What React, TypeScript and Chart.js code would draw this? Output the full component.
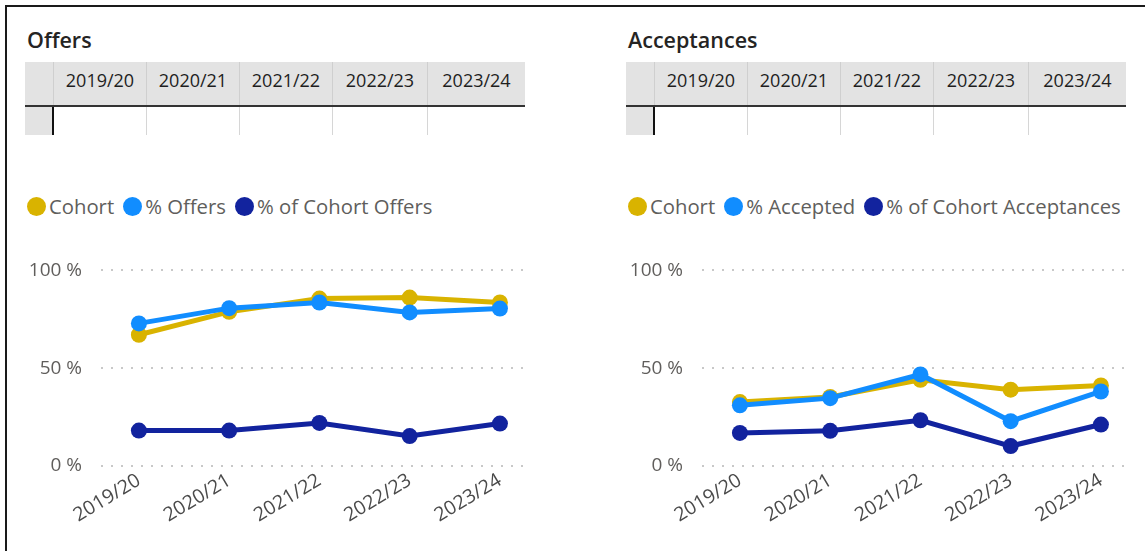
import React, { useEffect, useRef } from "react";
import { Chart, registerables } from "chart.js";

Chart.register(...registerables);

// ---- data ----
const categories = ["2019/20", "2020/21", "2021/22", "2022/23", "2023/24"];
const yTickValues = [0, 50, 100];

const offersSeriesNames = ["Cohort", "% Offers", "% of Cohort Offers"];
const offersCohort = [67.1, 78.8, 85.6, 86.1, 83.6];
const offersPct = [72.9, 80.7, 83.6, 78.5, 80.5];
const offersOfCohort = [18.1, 18.1, 22.0, 15.3, 21.7];

const accSeriesNames = ["Cohort", "% Accepted", "% of Cohort Acceptances"];
const accCohort = [32.7, 35.3, 44.1, 39.0, 41.2];
const accPct = [31.0, 34.7, 46.8, 22.9, 38.1];
const accOfCohort = [16.9, 18.0, 23.4, 10.2, 21.2];

const seriesColors = ["#D9B300", "#118DFF", "#12239E"];

const FONT = "'Segoe UI', 'Open Sans', sans-serif";
const TITLE_FONT = "'Segoe UI', 'Open Sans', sans-serif";

const colWidths = [29, 93, 93, 93, 95, 97];

type PanelProps = {
  x0: number;
  title: string;
  names: string[];
  series: number[][];
};

function LineChart({ names, series }: { names: string[]; series: number[][] }) {
  const ref = useRef<HTMLCanvasElement | null>(null);
  useEffect(() => {
    if (!ref.current) return;
    const drawOrder = [2, 1, 0];
    const chart = new Chart(ref.current, {
      type: "line",
      data: {
        datasets: series.map((vals, si) => ({
          label: names[si],
          data: vals.map((v, i) => ({ x: i, y: v })),
          borderColor: seriesColors[si],
          backgroundColor: seriesColors[si],
          pointBackgroundColor: seriesColors[si],
          pointBorderWidth: 0,
          pointRadius: 8,
          pointHoverRadius: 8,
          borderWidth: 5,
          tension: 0,
          order: drawOrder[si],
        })),
      },
      options: {
        animation: false,
        responsive: false,
        maintainAspectRatio: false,
        events: [],
        layout: { padding: { left: 0, right: 17, top: 30, bottom: 0 } },
        plugins: {
          legend: { display: false },
          tooltip: { enabled: false },
        },
        scales: {
          x: {
            type: "linear",
            min: -0.42,
            max: 4.3,
            afterBuildTicks: (s: any) => {
              s.ticks = categories.map((_, i) => ({ value: i }));
            },
            afterFit: (s: any) => {
              s.height = 85;
            },
            ticks: {
              callback: (v: any) => categories[v] ?? "",
              autoSkip: false,
              minRotation: 31,
              maxRotation: 31,
              padding: 3,
              color: "#4A4A4A",
              font: { family: FONT, size: 19.5 },
            },
            grid: { display: false, drawTicks: false },
            border: { display: false },
          },
          y: {
            min: 0,
            max: 100,
            afterBuildTicks: (s: any) => {
              s.ticks = yTickValues.map((v) => ({ value: v }));
            },
            afterFit: (s: any) => {
              s.width = 101;
            },
            ticks: {
              callback: (v: any) => v + " %",
              padding: 19,
              color: "#605E5C",
              font: { family: FONT, size: 19 },
            },
            grid: { color: "#C8C8C8", lineWidth: 2, drawTicks: false },
            border: { display: false, dash: [2, 8] },
          },
        },
      },
    });
    return () => chart.destroy();
  }, [names, series]);
  return (
    <canvas
      ref={ref}
      width={544}
      height={311}
      style={{ position: "absolute", left: 0, top: 240, width: 544, height: 311 }}
    />
  );
}

function Panel({ x0, title, names, series }: PanelProps) {
  return (
    <div style={{ position: "absolute", left: x0, top: 0, width: 544, height: 551 }}>
      <div
        style={{
          position: "absolute",
          left: 27,
          top: 26,
          fontFamily: TITLE_FONT,
          fontWeight: 600,
          fontSize: 21.5,
          color: "#252423",
          lineHeight: "28px",
          whiteSpace: "nowrap",
        }}
      >
        {title}
      </div>
      {/* table */}
      <div style={{ position: "absolute", left: 25, top: 62, width: 500, height: 73 }}>
        <div style={{ display: "flex", height: 43, background: "#E3E3E3", borderBottom: "2px solid #333" }}>
          {colWidths.map((w, i) => (
            <div
              key={i}
              style={{
                width: w,
                boxSizing: "border-box",
                borderRight: i < colWidths.length - 1 ? "1px solid #CFCFCF" : "none",
                fontFamily: FONT,
                fontSize: 18,
                color: "#1E1E1E",
                textAlign: "center",
                lineHeight: "36px",
                whiteSpace: "nowrap",
              }}
            >
              {i === 0 ? "" : categories[i - 1]}
            </div>
          ))}
        </div>
        <div style={{ display: "flex", height: 28 }}>
          {colWidths.map((w, i) => (
            <div
              key={i}
              style={{
                width: w,
                boxSizing: "border-box",
                background: i === 0 ? "#E3E3E3" : "#FFFFFF",
                borderRight:
                  i === 0 ? "2px solid #111" : i < colWidths.length - 1 ? "1px solid #D6D6D6" : "none",
              }}
            />
          ))}
        </div>
      </div>
      {/* legend */}
      <div
        style={{
          position: "absolute",
          left: 27,
          top: 193,
          height: 26,
          display: "flex",
          alignItems: "center",
          fontFamily: FONT,
          fontSize: 20.3,
          color: "#605E5C",
          whiteSpace: "nowrap",
        }}
      >
        {names.map((n, i) => (
          <div key={i} style={{ display: "flex", alignItems: "center", marginRight: 9 }}>
            <span
              style={{
                display: "inline-block",
                width: 19,
                height: 19,
                borderRadius: "50%",
                background: seriesColors[i],
                marginRight: 3,
              }}
            />
            <span>{n}</span>
          </div>
        ))}
      </div>
      <LineChart names={names} series={series} />
    </div>
  );
}

const offersData = [offersCohort, offersPct, offersOfCohort];
const accData = [accCohort, accPct, accOfCohort];

export default function App() {
  return (
    <div style={{ position: "relative", width: 1145, height: 551, overflow: "hidden", background: "#fff" }}>
      <style>{"body{margin:0;overflow:hidden;}"}</style>
      <div
        style={{
          position: "absolute",
          left: 5,
          top: 5,
          width: 1200,
          height: 600,
          border: "2px solid #1a1a1a",
        }}
      />
      <Panel x0={0} title="Offers" names={offersSeriesNames} series={offersData} />
      <Panel x0={601} title="Acceptances" names={accSeriesNames} series={accData} />
    </div>
  );
}
